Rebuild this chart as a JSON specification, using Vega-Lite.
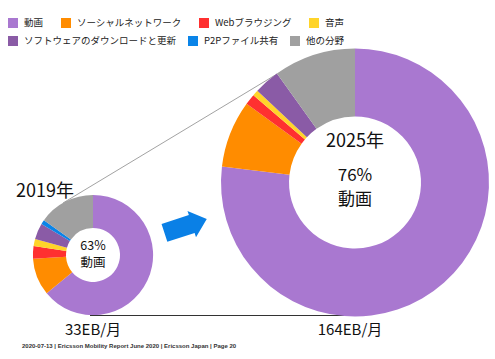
{
  "$schema": "https://vega.github.io/schema/vega-lite/v6.json",
  "width": 495,
  "height": 359,
  "autosize": {"type": "none"},
  "padding": 0,
  "background": "white",
  "config": {"view": {"stroke": null}, "font": "Noto Sans CJK JP"},
  "datasets": {
    "traffic": [
      {"year": 2019, "total": 33, "rank": 1, "category": "動画", "share": 64},
      {"year": 2019, "total": 33, "rank": 2, "category": "ソーシャルネットワーク", "share": 10},
      {"year": 2019, "total": 33, "rank": 3, "category": "Webブラウジング", "share": 3.4},
      {"year": 2019, "total": 33, "rank": 4, "category": "音声", "share": 1.9},
      {"year": 2019, "total": 33, "rank": 5, "category": "ソフトウェアのダウンロードと更新", "share": 4.3},
      {"year": 2019, "total": 33, "rank": 6, "category": "P2Pファイル共有", "share": 1.2},
      {"year": 2019, "total": 33, "rank": 7, "category": "他の分野", "share": 15.2},
      {"year": 2025, "total": 164, "rank": 1, "category": "動画", "share": 76.9},
      {"year": 2025, "total": 164, "rank": 2, "category": "ソーシャルネットワーク", "share": 8.1},
      {"year": 2025, "total": 164, "rank": 3, "category": "Webブラウジング", "share": 1.3},
      {"year": 2025, "total": 164, "rank": 4, "category": "音声", "share": 0.7},
      {"year": 2025, "total": 164, "rank": 5, "category": "ソフトウェアのダウンロードと更新", "share": 3.1},
      {"year": 2025, "total": 164, "rank": 6, "category": "P2Pファイル共有", "share": 0},
      {"year": 2025, "total": 164, "rank": 7, "category": "他の分野", "share": 9.9}
    ],
    "link": [
      {"from_year": 2019, "from_total": 33, "to_year": 2025, "to_total": 164}
    ],
    "labels": [
      {"year": 2019, "total": 33, "title": "2019年", "pct": "63%", "kind": "動画", "volume": "33EB/月"},
      {"year": 2025, "total": 164, "title": "2025年", "pct": "76%", "kind": "動画", "volume": "164EB/月"}
    ]
  },
  "encoding": {
    "x": {"field": "year", "type": "quantitative", "scale": {"domain": [2019, 2025], "range": [93, 355], "zero": false, "nice": false}, "axis": null},
    "y": {"field": "total", "type": "quantitative", "scale": {"domain": [33, 164], "range": [255, 182.5], "zero": false, "nice": false}, "axis": null}
  },
  "layer": [
    {
      "data": {"name": "link"},
      "mark": {"type": "rule", "color": "#8a8a8a", "strokeWidth": 0.8, "xOffset": -30, "yOffset": -52, "x2Offset": -78, "y2Offset": -108.5},
      "encoding": {
        "x": {"field": "from_year", "type": "quantitative"},
        "y": {"field": "from_total", "type": "quantitative"},
        "x2": {"field": "to_year"},
        "y2": {"field": "to_total"}
      }
    },
    {
      "data": {"name": "link"},
      "mark": {"type": "rule", "color": "#333333", "strokeWidth": 1.2, "xOffset": -3, "yOffset": 60.5, "x2Offset": -5, "y2Offset": 133},
      "encoding": {
        "x": {"field": "from_year", "type": "quantitative"},
        "y": {"field": "from_total", "type": "quantitative"},
        "x2": {"field": "to_year"},
        "y2": {"field": "to_total"}
      }
    },
    {
      "data": {"name": "traffic"},
      "transform": [{"filter": "datum.rank >= 5"}],
      "mark": {"type": "point", "filled": true, "opacity": 0, "size": 1},
      "encoding": {
        "color": {
          "field": "category", "type": "nominal",
          "scale": {
            "domain": ["ソフトウェアのダウンロードと更新", "P2Pファイル共有", "他の分野"],
            "range": ["#8a5ba6", "#0a84e8", "#a0a0a0"]
          },
          "legend": {
            "title": null, "orient": "none", "legendX": 8, "legendY": 36, "direction": "horizontal",
            "columnPadding": 11, "padding": 0, "symbolType": "square", "symbolSize": 100, "symbolOpacity": 1,
            "symbolStrokeWidth": 0, "labelFontSize": 9.5, "labelFont": "Noto Sans CJK JP", "labelColor": "#222", "labelOffset": 6, "labelLimit": 300
          }
        }
      }
    },
    {
      "data": {"name": "traffic"},
      "transform": [{"filter": "datum.year == 2019"}],
      "mark": {"type": "arc", "innerRadius": 27},
      "encoding": {
        "theta": {"field": "share", "type": "quantitative", "stack": true, "scale": {"domain": [0, 100]}},
        "radius": {"field": "total", "type": "quantitative", "scale": {"type": "sqrt", "domain": [0, 164], "range": [0, 134], "zero": true}},
        "order": {"field": "rank", "type": "quantitative"},
        "fill": {
          "field": "category", "type": "nominal",
          "scale": {
            "domain": ["動画", "ソーシャルネットワーク", "Webブラウジング", "音声", "ソフトウェアのダウンロードと更新", "P2Pファイル共有", "他の分野"],
            "range": ["#a978d0", "#ff8c00", "#ff3030", "#ffd42a", "#8a5ba6", "#0a84e8", "#a0a0a0"]
          },
          "legend": {
            "title": null, "orient": "none", "legendX": 8, "legendY": 18, "direction": "horizontal",
            "values": ["動画", "ソーシャルネットワーク", "Webブラウジング", "音声"],
            "columnPadding": 17, "padding": 0, "symbolType": "square", "symbolSize": 100, "symbolOpacity": 1,
            "symbolStrokeWidth": 0, "labelFontSize": 9.5, "labelFont": "Noto Sans CJK JP", "labelColor": "#222", "labelOffset": 6, "labelLimit": 300
          }
        }
      }
    },
    {
      "data": {"name": "traffic"},
      "transform": [{"filter": "datum.year == 2025"}],
      "mark": {"type": "arc", "innerRadius": 66},
      "encoding": {
        "theta": {"field": "share", "type": "quantitative", "stack": true},
        "radius": {"field": "total", "type": "quantitative"},
        "order": {"field": "rank", "type": "quantitative"},
        "fill": {"field": "category", "type": "nominal"}
      }
    },
    {
      "data": {"name": "labels"},
      "transform": [{"filter": "datum.year == 2019"}],
      "layer": [
        {"mark": {"type": "text", "fontSize": 18, "dx": -48, "dy": -63, "baseline": "middle", "color": "#111"}, "encoding": {"text": {"field": "title"}}},
        {"mark": {"type": "text", "fontSize": 12.5, "dy": -9.5, "baseline": "middle", "color": "#111"}, "encoding": {"text": {"field": "pct"}}},
        {"mark": {"type": "text", "fontSize": 12.5, "dy": 8, "baseline": "middle", "color": "#111"}, "encoding": {"text": {"field": "kind"}}},
        {"mark": {"type": "text", "fontSize": 15, "dy": 75, "baseline": "middle", "color": "#111"}, "encoding": {"text": {"field": "volume"}}},
        {"mark": {"type": "text", "fontSize": 6, "fontWeight": "bold", "font": "Liberation Sans", "dx": -71, "dy": 91, "align": "left", "baseline": "middle", "color": "#333", "text": "2020-07-13  |  Ericsson Mobility Report June 2020  |  Ericsson Japan  |  Page 20"}},
        {"mark": {"type": "point", "filled": true, "color": "#0a80e6", "opacity": 1, "size": 1980, "angle": -18, "xOffset": 92.6, "yOffset": -29, "shape": "M-1,-0.42L0.29,-0.42L0.29,-0.62L1,0L0.29,0.62L0.29,0.42L-1,0.42Z"}}
      ]
    },
    {
      "data": {"name": "labels"},
      "transform": [{"filter": "datum.year == 2025"}],
      "layer": [
        {"mark": {"type": "text", "fontSize": 18, "dy": -41, "baseline": "middle", "color": "#111"}, "encoding": {"text": {"field": "title"}}},
        {"mark": {"type": "text", "fontSize": 17, "dy": -6.5, "baseline": "middle", "color": "#111"}, "encoding": {"text": {"field": "pct"}}},
        {"mark": {"type": "text", "fontSize": 17, "dy": 17, "baseline": "middle", "color": "#111"}, "encoding": {"text": {"field": "kind"}}},
        {"mark": {"type": "text", "fontSize": 15, "dx": -5, "dy": 147.5, "baseline": "middle", "color": "#111"}, "encoding": {"text": {"field": "volume"}}}
      ]
    }
  ]
}
